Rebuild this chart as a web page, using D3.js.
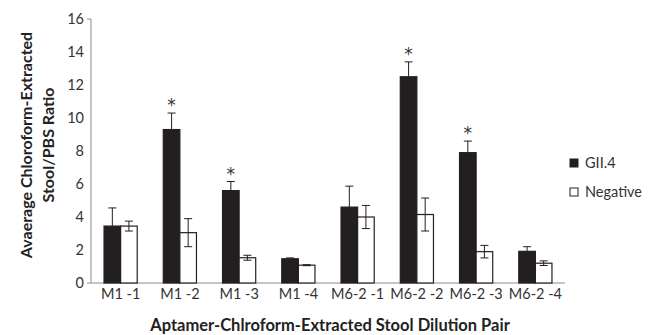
<!DOCTYPE html>
<html><head><meta charset="utf-8">
<script src="https://cdn.jsdelivr.net/npm/d3@7"></script>
<style>body{margin:0;background:#fff;}svg{display:block;font-family:Lato,"Open Sans",sans-serif;}</style>
</head><body>
<svg id="c" width="661" height="335"></svg>
<script>
const categories = ["M1 -1","M1 -2","M1 -3","M1 -4","M6-2 -1","M6-2 -2","M6-2 -3","M6-2 -4"];
const seriesNames = ["GII.4","Negative"];
const gii4 = [3.45, 9.3, 5.6, 1.47, 4.6, 12.5, 7.9, 1.92];
const gii4Err = [1.1, 1.0, 0.55, 0.05, 1.27, 0.9, 0.7, 0.28];
const negative = [3.45, 3.05, 1.53, 1.08, 4.0, 4.15, 1.9, 1.2];
const negativeErr = [0.3, 0.85, 0.15, 0.03, 0.7, 1.0, 0.38, 0.14];
const significant = [false, true, true, false, false, true, true, false];
const yTicks = [0,2,4,6,8,10,12,14,16];

const svg = d3.select("#c");
const m = {l:91, r:96, t:19, b:52};
const W = 661, H = 335;
const x = d3.scaleBand().domain(categories).range([m.l, W-m.r]).paddingInner(0.44).paddingOuter(0.22);
const xs = d3.scaleBand().domain(seriesNames).range([0, x.bandwidth()]);
const y = d3.scaleLinear().domain([0,16]).range([H-m.b, m.t]);

const data = categories.map((c,i)=>({c, vals:[
  {s:"GII.4", v:gii4[i], e:gii4Err[i]},
  {s:"Negative", v:negative[i], e:negativeErr[i]}], sig:significant[i]}));

// axes
const axisColor = "#8c8c8c";
svg.append("line").attr("x1", m.l).attr("x2", m.l).attr("y1", y(16)).attr("y2", y(0)).attr("stroke", axisColor);
svg.append("line").attr("x1", m.l-4).attr("x2", m.l).attr("y1", y(16)).attr("y2", y(16)).attr("stroke", axisColor);
svg.append("line").attr("x1", m.l-4).attr("x2", W-m.r).attr("y1", y(0)).attr("y2", y(0)).attr("stroke", axisColor);

const yAx = svg.append("g").attr("transform", `translate(${m.l},0)`)
  .call(d3.axisLeft(y).tickValues(yTicks).tickSize(0).tickPadding(7));
yAx.select(".domain").remove();
yAx.selectAll("text").attr("font-size", 14.5).attr("fill", "#333").attr("font-family", "Lato,sans-serif");

const xAx = svg.append("g").attr("transform", `translate(0,${y(0)})`)
  .call(d3.axisBottom(x).tickSize(0).tickPadding(6));
xAx.select(".domain").remove();
xAx.selectAll("text").attr("font-size", 14.5).attr("fill", "#333").attr("font-family", "Lato,sans-serif");

// bars
const g = svg.selectAll(".grp").data(data).join("g").attr("transform", d=>`translate(${x(d.c)},0)`);
g.selectAll("rect").data(d=>d.vals).join("rect")
  .attr("x", d=>xs(d.s)).attr("width", xs.bandwidth())
  .attr("y", d=>y(d.v)).attr("height", d=>y(0)-y(d.v))
  .attr("fill", d=>d.s==="GII.4" ? "#231f20" : "#fff")
  .attr("stroke", "#231f20").attr("stroke-width", 1.2);

// error bars
const cap = 4;
g.selectAll(".err").data(d=>d.vals).join("path").attr("class","err")
  .attr("d", d=>{
    const cx = xs(d.s)+xs.bandwidth()/2;
    const yt = y(d.v+d.e), yb = y(d.s==="GII.4" ? d.v : d.v-d.e);
    let p = `M${cx},${yt}V${yb}M${cx-cap},${yt}H${cx+cap}`;
    if (d.s!=="GII.4") p += `M${cx-cap},${yb}H${cx+cap}`;
    return p;
  })
  .attr("stroke", "#231f20").attr("stroke-width", 1).attr("fill","none");

// significance stars
g.filter(d=>d.sig).append("text")
  .attr("x", d=>xs("GII.4")+xs.bandwidth()/2)
  .attr("y", d=>y(d.vals[0].v+d.vals[0].e)-2)
  .attr("text-anchor","middle").attr("font-size", 17).attr("font-family","'DejaVu Sans',sans-serif")
  .attr("fill","#333").text("*");

// legend
const lg = svg.append("g").attr("transform", "translate(570,159)");
seriesNames.forEach((s,i)=>{
  const row = lg.append("g").attr("transform", `translate(0,${i*29})`);
  row.append("rect").attr("x",0).attr("y",0).attr("width",8).attr("height",8)
    .attr("fill", i===0 ? "#231f20" : "#fff").attr("stroke","#231f20").attr("stroke-width",1);
  row.append("text").attr("x",15).attr("y",9).attr("font-size",14.5).attr("fill","#333").text(s);
});

// titles
svg.append("text").attr("x", 330).attr("y", 331).attr("text-anchor","middle")
  .attr("font-size", 16.5).attr("font-weight","bold").attr("fill","#222")
  .text("Aptamer-Chlroform-Extracted Stool Dilution Pair");
const yt = svg.append("text").attr("transform","translate(0,145) rotate(-90)")
  .attr("text-anchor","middle").attr("font-size", 16).attr("font-weight","bold").attr("fill","#222");
yt.append("tspan").attr("x",0).attr("y",32).text("Avaerage Chloroform-Extracted");
yt.append("tspan").attr("x",0).attr("y",54).text("Stool/PBS Ratio");
</script>
</body></html>
